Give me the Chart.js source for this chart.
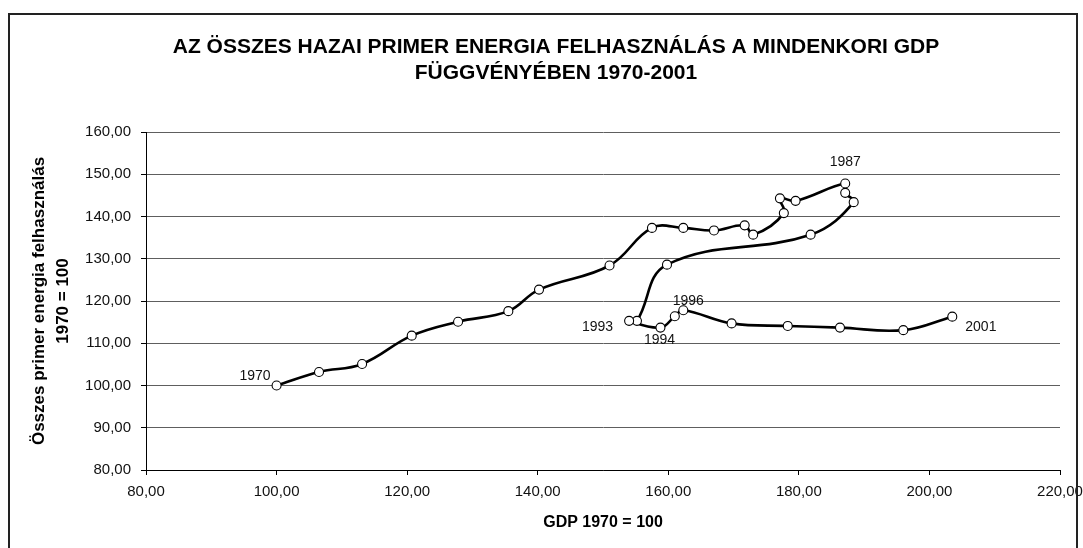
<!DOCTYPE html>
<html>
<head>
<meta charset="utf-8">
<script src="https://cdn.jsdelivr.net/npm/chart.js@4.4.0/dist/chart.umd.min.js"></script>
<style>
  html, body { margin: 0; padding: 0; background: #fff; }
  #wrap { position: relative; width: 1083px; height: 548px; }
  #frame { position: absolute; left: 8px; top: 13px; width: 1070px; height: 545px; border: 2px solid #222; box-sizing: border-box; pointer-events: none; }
  canvas { position: absolute; left: 0; top: 0; }
</style>
</head>
<body>
<div id="wrap">
  <canvas id="energyChart" width="1083" height="548"></canvas>
  <div id="frame"></div>
</div>
<script>
// GDP index (x) and primary energy use index (y), 1970 = 100
var gdp = [100.0, 106.5, 113.1, 120.7, 127.8, 135.5, 140.2, 151.0, 157.5, 162.3, 167.0,
  171.7, 173.0, 177.7, 177.1, 179.5, 187.1, 187.1, 188.4, 181.8, 159.8, 155.2, 154.0,
  158.8, 161.0, 162.3, 169.7, 178.3, 186.3, 196.0, 203.5];
var energy = [100.0, 103.2, 105.1, 111.8, 115.1, 117.6, 122.7, 128.4, 137.3, 137.3, 136.7,
  137.9, 135.7, 140.8, 144.3, 143.7, 147.8, 145.6, 143.4, 135.7, 128.6, 115.3, 115.3,
  113.7, 116.4, 117.8, 114.7, 114.1, 113.7, 113.1, 116.3];
var yearLabels = ['1970', '', '', '', '', '', '', '', '', '', '', '', '', '', '', '', '1987',
  '', '', '', '', '', '1993', '1994', '', '1996', '', '', '', '', '2001'];

var titleLines = ['AZ ÖSSZES HAZAI PRIMER ENERGIA FELHASZNÁLÁS A MINDENKORI GDP', 'FÜGGVÉNYÉBEN 1970-2001'];
var yTitle = ['Összes primer energia felhasználás', '1970 = 100'];
var xTitle = 'GDP 1970 = 100';

// where each year label sits relative to its point
var labelPlace = {
  '1970': { dx: -6, dy: -9, align: 'right' },
  '1987': { dx: 0, dy: -21, align: 'center' },
  '1993': { dx: -16, dy: 6, align: 'right' },
  '1994': { dx: -1, dy: 13, align: 'center' },
  '1996': { dx: 5, dy: -9, align: 'center' },
  '2001': { dx: 13, dy: 11, align: 'left' }
};

var FONT = '"Liberation Sans", Arial, sans-serif';

function fmt(v) {
  return v.toFixed(2).replace('.', ',');
}

var points = gdp.map(function (x, i) { return { x: x, y: energy[i] }; });

// year labels next to some points + the chart title
var textPlugin = {
  id: 'texts',
  afterDatasetsDraw: function (chart) {
    var c = chart.ctx;
    var meta = chart.getDatasetMeta(0);
    c.save();
    c.font = '14px ' + FONT;
    c.fillStyle = '#111';
    c.textBaseline = 'middle';
    meta.data.forEach(function (el, i) {
      var t = yearLabels[i];
      if (!t) return;
      var p = labelPlace[t];
      c.textAlign = p.align;
      c.fillText(t, el.x + p.dx, el.y + p.dy);
    });
    c.font = 'bold 21px ' + FONT;
    c.fillStyle = '#000';
    c.textAlign = 'center';
    titleLines.forEach(function (line, i) {
      c.fillText(line, 556, 47 + i * 26);
    });
    c.restore();
  }
};

var ctx = document.getElementById('energyChart').getContext('2d');
var myChart = new Chart(ctx, {
  type: 'scatter',
  data: {
    datasets: [{
      data: points,
      showLine: true,
      borderColor: '#000',
      borderWidth: 2.6,
      tension: 0.4,
      pointRadius: 4.5,
      pointBorderWidth: 1.1,
      pointBackgroundColor: '#fff',
      pointBorderColor: '#000'
    }]
  },
  options: {
    responsive: false,
    animation: false,
    layout: { padding: { left: 0, right: 23, top: 132, bottom: 0 } },
    plugins: {
      legend: { display: false },
      tooltip: { enabled: false },
      title: { display: false }
    },
    scales: {
      x: {
        type: 'linear',
        min: 80,
        max: 220,
        afterFit: function (s) { s.height = 78; s.paddingRight = 0; s.paddingLeft = 0; },
        ticks: {
          stepSize: 20,
          color: '#111',
          padding: 8,
          font: { family: FONT, size: 15 },
          callback: function (v) { return fmt(v); }
        },
        grid: { drawOnChartArea: false, tickLength: 5, tickColor: '#000' },
        border: { color: '#000', width: 1 },
        title: {
          display: true,
          text: xTitle,
          color: '#000',
          font: { family: FONT, size: 16, weight: 'bold' },
          padding: { top: 0, bottom: 16 }
        }
      },
      y: {
        min: 80,
        max: 160,
        afterFit: function (s) { s.width = 146; s.paddingTop = 0; s.paddingBottom = 0; },
        ticks: {
          stepSize: 10,
          color: '#111',
          padding: 10,
          font: { family: FONT, size: 15 },
          callback: function (v) { return fmt(v); }
        },
        grid: { color: '#5e5e5e', lineWidth: 1, tickLength: 5, tickColor: '#000' },
        border: { color: '#000', width: 1 },
        title: {
          display: true,
          text: yTitle,
          color: '#000',
          font: { family: FONT, size: 17, weight: 'bold', lineHeight: 1.38 },
          padding: { top: 28, bottom: 0 }
        }
      }
    }
  },
  plugins: [textPlugin]
});
</script>
</body>
</html>
